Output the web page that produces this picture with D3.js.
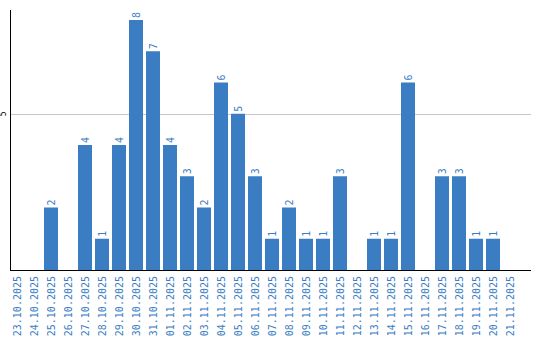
<!DOCTYPE html>
<html>
<head>
<meta charset="utf-8">
<script src="https://cdn.jsdelivr.net/npm/d3@7"></script>
<style>
  body { margin: 0; background: #fff; }
  svg { display: block; }
</style>
</head>
<body>
<div id="chart"></div>
<script>
// dates and daily counts
const dates = ["23.10.2025","24.10.2025","25.10.2025","26.10.2025","27.10.2025","28.10.2025",
  "29.10.2025","30.10.2025","31.10.2025","01.11.2025","02.11.2025","03.11.2025","04.11.2025",
  "05.11.2025","06.11.2025","07.11.2025","08.11.2025","09.11.2025","10.11.2025","11.11.2025",
  "12.11.2025","13.11.2025","14.11.2025","15.11.2025","16.11.2025","17.11.2025","18.11.2025",
  "19.11.2025","20.11.2025","21.11.2025"];
const counts = [0,0,2,0,4,1,4,8,7,4,3,2,6,5,3,1,2,1,1,3,0,1,1,6,0,3,3,1,1,0];
const yTicks = [5];

const width = 540, height = 340;
const plotLeft = 10, plotRight = 531, plotBottom = 270, plotTop = 10;
const blue = "#3a7dc3";
const font = "DejaVu Sans Mono";

const svg = d3.select("#chart").append("svg")
  .attr("width", width)
  .attr("height", height);

const x = d3.scaleBand()
  .domain(dates)
  .range([plotLeft, plotLeft + dates.length * 17 - 3])
  .paddingInner(3 / 17)
  .paddingOuter(0);

const y = d3.scaleLinear()
  .domain([0, 8])
  .range([plotBottom, 20]);

const barData = counts.map((v, i) => ({ date: dates[i], v: v })).filter(d => d.v > 0);

// grid line
svg.selectAll(".grid")
  .data(yTicks)
  .join("line")
  .attr("x1", plotLeft).attr("x2", plotRight)
  .attr("y1", d => Math.round(y(d)) + 0.5)
  .attr("y2", d => Math.round(y(d)) + 0.5)
  .attr("stroke", "#c8c8c8");

// bars
svg.selectAll(".bar")
  .data(barData)
  .join("rect")
  .attr("x", d => x(d.date))
  .attr("y", d => y(d.v))
  .attr("width", x.bandwidth())
  .attr("height", d => plotBottom - y(d.v))
  .attr("fill", blue);

// value labels
svg.selectAll(".val")
  .data(barData)
  .join("text")
  .attr("transform", d => `translate(${x(d.date) + x.bandwidth() / 2 + 4},${y(d.v) - 2}) rotate(-90)`)
  .attr("font-family", font)
  .attr("font-size", 10)
  .attr("fill", blue)
  .text(d => d.v);

// x labels
svg.selectAll(".xl")
  .data(dates)
  .join("text")
  .attr("transform", d => `translate(${x(d) + x.bandwidth() / 2 + 4},${plotBottom + 6}) rotate(-90)`)
  .attr("text-anchor", "end")
  .attr("font-family", font)
  .attr("font-size", 10)
  .attr("fill", blue)
  .text(d => d);

// y tick labels
svg.selectAll(".yl")
  .data(yTicks)
  .join("text")
  .attr("transform", d => `translate(6,${y(d)}) rotate(-90)`)
  .attr("text-anchor", "middle")
  .attr("font-family", font)
  .attr("font-size", 8)
  .attr("fill", "#000")
  .text(d => d);

// axes lines
svg.append("line")
  .attr("x1", plotLeft + 0.5).attr("x2", plotLeft + 0.5)
  .attr("y1", plotTop).attr("y2", plotBottom + 1)
  .attr("stroke", "#000");
svg.append("line")
  .attr("x1", plotLeft).attr("x2", plotRight)
  .attr("y1", plotBottom + 0.5).attr("y2", plotBottom + 0.5)
  .attr("stroke", "#000");
</script>
</body>
</html>
